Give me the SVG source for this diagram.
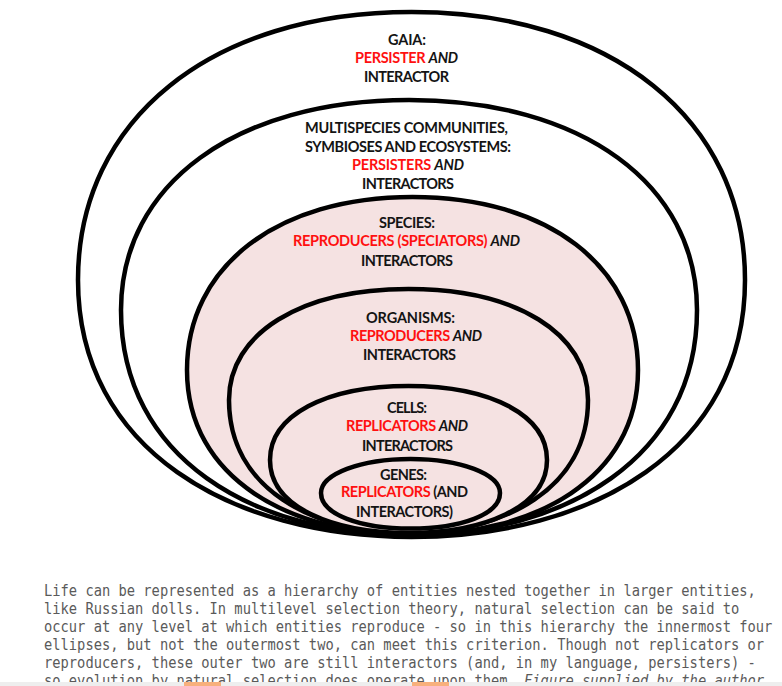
<svg xmlns="http://www.w3.org/2000/svg" width="782" height="686" viewBox="0 0 782 686">
<style>
.ring{stroke:#000;stroke-width:4.5;stroke-linejoin:round}
.w{fill:#fff}
.p{fill:#f5e2e2}
.lbl{font-family:Lato,"Open Sans","Liberation Sans",sans-serif;font-weight:700;font-size:14.5px;fill:#141414;text-anchor:middle}
.r{fill:#ff1010}
.i{font-style:italic}
.cap{font-family:"DejaVu Sans Mono","Liberation Mono",monospace;font-size:15px;fill:#5a5a5a}
</style>
<rect width="782" height="686" fill="#fff"/>
<g id="gaia">
<path class="ring w" d="M78,280 C78,119.2 211.4,12 411.5,12 C611.6,12 745,119.2 745,280 C745,449.6 591.6,537 411.5,537 C231.4,537 78,449.6 78,280Z"/>
<text class="lbl" x="407" y="45" textLength="38">GAIA:</text>
<text class="lbl" x="406.5" y="63" textLength="103"><tspan class="r">PERSISTER</tspan> <tspan class="i">AND</tspan></text>
<text class="lbl" x="406.5" y="82" textLength="85">INTERACTOR</text>
</g>
<g id="communities">
<path class="ring w" d="M121,310 C121,184 236.2,100 409,100 C581.8,100 697,184 697,310 C697,458.5 564.5,535 409,535 C253.5,535 121,458.5 121,310Z"/>
<text class="lbl" x="406.5" y="133" textLength="203">MULTISPECIES COMMUNITIES,</text>
<text class="lbl" x="408" y="151.5" textLength="206">SYMBIOSES AND ECOSYSTEMS:</text>
<text class="lbl" x="408" y="170" textLength="112"><tspan class="r">PERSISTERS</tspan> <tspan class="i">AND</tspan></text>
<text class="lbl" x="408" y="189" textLength="92">INTERACTORS</text>
</g>
<g id="species">
<path class="ring p" d="M187,370 C187,266.2 277.2,197 412.5,197 C547.8,197 638,266.2 638,370 C638,478.9 534.3,535 412.5,535 C290.7,535 187,478.9 187,370Z"/>
<text class="lbl" x="407" y="228" textLength="56">SPECIES:</text>
<text class="lbl" x="406.5" y="246" textLength="227"><tspan class="r">REPRODUCERS (SPECIATORS)</tspan> <tspan class="i">AND</tspan></text>
<text class="lbl" x="407" y="266" textLength="92">INTERACTORS</text>
</g>
<g id="organisms">
<path class="ring p" d="M229,400 C229,333.4 300.8,289 408.5,289 C516.2,289 588,333.4 588,400 C588,487.8 505.4,533 408.5,533 C311.6,533 229,487.8 229,400Z"/>
<text class="lbl" x="410.5" y="323" textLength="89">ORGANISMS:</text>
<text class="lbl" x="416" y="341" textLength="132"><tspan class="r">REPRODUCERS</tspan> <tspan class="i">AND</tspan></text>
<text class="lbl" x="409.5" y="360" textLength="93">INTERACTORS</text>
</g>
<g id="cells">
<path class="ring p" d="M270,460 C270,415.6 325.4,386 408.5,386 C491.6,386 547,415.6 547,460 C547,507.5 483.3,533 408.5,533 C333.7,533 270,507.5 270,460Z"/>
<text class="lbl" x="407" y="413" textLength="40">CELLS:</text>
<text class="lbl" x="407" y="430.5" textLength="122"><tspan class="r">REPLICATORS</tspan> <tspan class="i">AND</tspan></text>
<text class="lbl" x="407.5" y="450.5" textLength="91">INTERACTORS</text>
</g>
<g id="genes">
<path class="ring p" d="M321,493 C321,474 360.4,459 410.5,459 C460.6,459 500,474 500,493 C500,514.5 460.6,528.5 410.5,528.5 C360.4,528.5 321,514.5 321,493Z"/>
<text class="lbl" x="403.5" y="480" textLength="47">GENES:</text>
<text class="lbl" x="404.5" y="497" textLength="127"><tspan class="r">REPLICATORS</tspan> (AND</text>
<text class="lbl" x="404.5" y="516.5" textLength="97">INTERACTORS)</text>
</g>
<g id="connectors"/>
<g id="caption" transform="translate(44,0) scale(0.918,1)">
<text class="cap" x="0" y="596">Life can be represented as a hierarchy of entities nested together in larger entities,</text>
<text class="cap" x="0" y="614">like Russian dolls. In multilevel selection theory, natural selection can be said to</text>
<text class="cap" x="0" y="632">occur at any level at which entities reproduce - so in this hierarchy the innermost four</text>
<text class="cap" x="0" y="650">ellipses, but not the outermost two, can meet this criterion. Though not replicators or</text>
<text class="cap" x="0" y="668">reproducers, these outer two are still interactors (and, in my language, persisters) -</text>
<text class="cap" x="0" y="686">so evolution by natural selection does operate upon them. <tspan font-style="italic">Figure supplied by the author</tspan></text>
</g>
<g id="bar">
<rect x="0" y="682" width="782" height="4" fill="#eeeeee"/>
<rect x="184" y="682" width="37" height="4" fill="#f8b07c"/>
<rect x="412" y="682" width="37" height="4" fill="#f8b07c"/>
</g>
</svg>
